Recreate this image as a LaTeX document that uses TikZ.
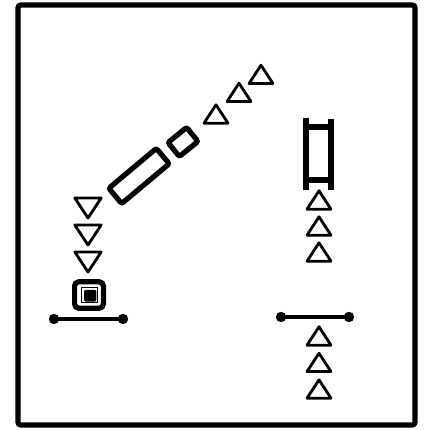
\documentclass[tikz,border=0pt]{standalone}
\usepackage{xcolor}
\usepackage{tikz}
\usetikzlibrary{positioning, calc}

\begin{document}
\begin{tikzpicture}[
    thickbox/.style={draw, line width=0.13cm, rounded corners=1.5pt, inner sep=0pt},
    tri/.style={line width=0.07cm, line join=round},
    up tri/.pic={\draw[tri] (-0.3,-0.23) -- (0.3,-0.23) -- (0,0.23) -- cycle;},
    down tri/.pic={\draw[tri] (-0.33,0.25) -- (0.33,0.25) -- (0,-0.25) -- cycle;},
    bar/.style={line width=0.09cm}
]
    \useasboundingbox (0,0) rectangle (10.7,10.75);
    % Frame
    \draw[line width=0.13cm, rounded corners=2pt] (0.45,0.125) rectangle (10.375,10.625);

    % Left: base bar and marked box
    \draw[bar] (1.35,2.775) -- (3.075,2.775);
    \fill (1.35,2.775) circle (0.13);
    \fill (3.075,2.775) circle (0.13);
    \node[thickbox, rounded corners=3pt, minimum width=0.72cm, minimum height=0.66cm] (box) at (2.225,3.375) {};
    \draw[line width=0.6pt] (2.03,3.18) rectangle (2.44,3.57);
    \fill[rounded corners=1pt] (2.1,3.21) rectangle (2.41,3.5);

    % Left: downward triangles
    \pic at (2.2,4.2) {down tri};
    \pic at (2.2,4.875) {down tri};
    \pic at (2.2,5.55) {down tri};

    % Diagonal boxes
    \node[thickbox, minimum width=1.55cm, minimum height=0.5cm, rotate=40] (long) at (3.475,6.35) {};
    \node[thickbox, minimum width=0.6cm, minimum height=0.45cm, rotate=39] (short) at (4.575,7.2) {};

    % Diagonal upward triangles
    \pic at (5.4,7.9) {up tri};
    \pic at (5.975,8.44) {up tri};
    \pic at (6.525,8.89) {up tri};

    % Right: ladder frame
    \draw[line width=0.17cm] (7.65,7.8) -- (7.65,6.0);
    \draw[line width=0.17cm] (8.275,7.78) -- (8.275,6.0);
    \draw[line width=0.15cm] (7.65,7.575) -- (8.275,7.575);
    \draw[line width=0.15cm] (7.65,6.25) -- (8.275,6.25);

    % Right: upward triangles under the frame
    \pic at (7.975,5.75) {up tri};
    \pic at (7.975,5.1) {up tri};
    \pic at (7.975,4.45) {up tri};

    % Right: base bar and triangles
    \draw[bar] (7.025,2.825) -- (8.725,2.825);
    \fill (7.025,2.825) circle (0.13);
    \fill (8.725,2.825) circle (0.13);
    \pic at (7.975,2.35) {up tri};
    \pic at (7.975,1.69) {up tri};
    \pic at (7.975,1.025) {up tri};
\end{tikzpicture}
\end{document}
